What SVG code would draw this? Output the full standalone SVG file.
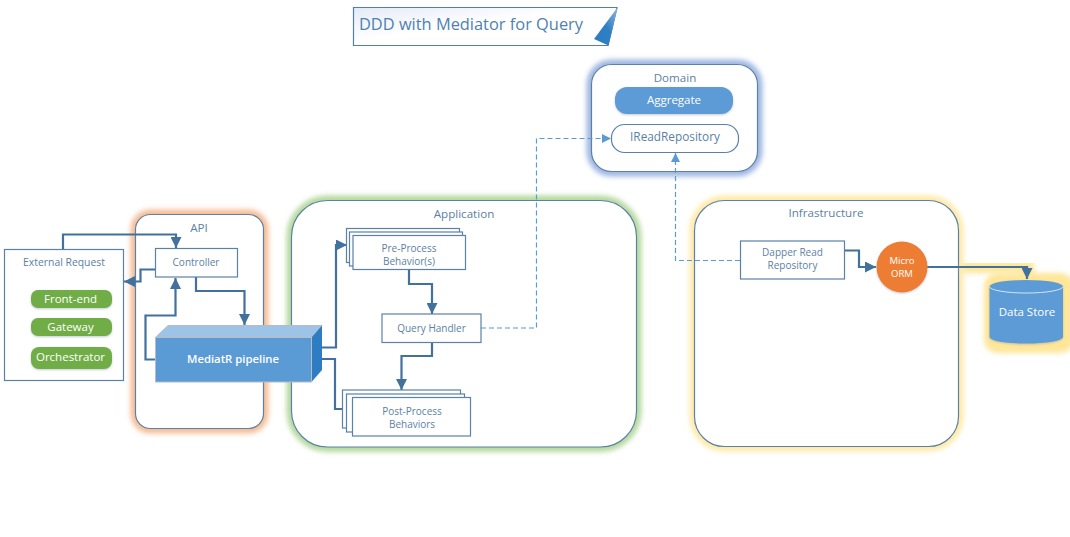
<svg xmlns="http://www.w3.org/2000/svg" width="1070" height="537" viewBox="0 0 1070 537">
<style>
text{font-family:"Open Sans","Noto Sans","Liberation Sans",sans-serif;text-anchor:middle}
.l{font-size:10px;fill:#5c7fa3}
.h{font-size:11.600px;fill:#5c7fa3}
.w{font-size:11.500px;fill:#fff}
.box{fill:#fff;stroke:#5a82a8;stroke-width:1.200}
.c{fill:none;stroke:#41719c;stroke-width:2.200}
.d{fill:none;stroke:#5b9bd5;stroke-width:1.200;stroke-dasharray:5 3}
.pill{fill:#70ad47;filter:url(#sh)}
.g{fill:none;stroke-width:10;filter:url(#glow);opacity:.85}
</style>
<defs>
<filter id="glow" x="-20%" y="-20%" width="140%" height="140%"><feGaussianBlur stdDeviation="2.500"/></filter>
<filter id="sh" x="-10%" y="-20%" width="120%" height="150%"><feDropShadow dx="0" dy="1" stdDeviation="1" flood-color="#8a9aa8" flood-opacity=".5"/></filter>
<linearGradient id="tg" x1="0" y1="0" x2="1" y2="1"><stop offset="0" stop-color="#e4eaf6"/><stop offset=".45" stop-color="#fff"/></linearGradient>
<linearGradient id="fold" x1="1" y1="0" x2="0" y2="1"><stop offset="0" stop-color="#8fb6dc"/><stop offset=".5" stop-color="#2e7fc4"/><stop offset="1" stop-color="#2e7cc0"/></linearGradient>
<marker id="a" markerUnits="userSpaceOnUse" viewBox="0 0 10 10" refX="10" refY="5" markerWidth="11" markerHeight="11" orient="auto"><path d="M0,0L10,5L0,10Z" fill="#41719c"/></marker>
<marker id="b" markerUnits="userSpaceOnUse" viewBox="0 0 8 8" refX="8" refY="4" markerWidth="9" markerHeight="9" orient="auto"><path d="M0,0L8,4L0,8Z" fill="#5b9bd5"/></marker>
</defs>
<g id="title">
<path d="M353.500,7.500H617L608,45.500H353.500Z" fill="url(#tg)" stroke="#4f81b0" stroke-width="1.200"/>
<path d="M617.500,7.500L594,39L608.500,45.500Z" fill="url(#fold)"/>
<text x="471" y="30" style="font-size:16.400px;fill:#4f81b0">DDD with Mediator for Query</text>
</g>
<g id="api">
<rect x="135.500" y="214.500" width="128" height="214" rx="15" class="g" stroke="#f4b183"/>
<rect x="135.500" y="214.500" width="128" height="214" rx="15" class="box"/>
<text x="199" y="232" class="h">API</text>
</g>
<g id="application">
<rect x="291.500" y="200.500" width="345" height="246.500" rx="36" class="g" stroke="#a9d18e"/>
<rect x="291.500" y="200.500" width="345" height="246.500" rx="36" class="box"/>
<text x="464" y="218" class="h">Application</text>
</g>
<g id="domain">
<rect x="591.500" y="64.500" width="166" height="107" rx="20" class="g" stroke="#8faadc"/>
<rect x="591.500" y="64.500" width="166" height="107" rx="20" class="box"/>
<text x="675" y="82" class="h">Domain</text>
</g>
<g id="infrastructure">
<rect x="694.500" y="200.500" width="264" height="246" rx="30" class="g" stroke="#ffe699"/>
<rect x="694.500" y="200.500" width="264" height="246" rx="30" class="box"/>
<text x="826" y="217" class="h">Infrastructure</text>
</g>
<g id="data-store">
<path d="M962,267H1028V285" fill="none" stroke="#ffe699" stroke-width="12" filter="url(#glow)"/>
<rect x="984" y="273" width="90" height="80" rx="14" fill="#ffe699" filter="url(#glow)"/>
<path d="M989.500,286.500A36.500,6.500 0 0 1 1063,286.500V337A36.500,6.500 0 0 1 989.500,337Z" fill="#5b9bd5" filter="url(#sh)"/>
<path d="M989.500,286.500A36.500,6.500 0 0 0 1063,286.500" fill="none" stroke="#d6e4f2" stroke-width="1"/>
<text x="1027" y="316" style="font-size:11.500px;fill:#fff">Data Store</text>
</g>
<g id="external-request">
<rect x="4.500" y="249.500" width="119" height="131" class="box"/>
<text x="64" y="266" style="font-size:10.400px;fill:#5c7fa3">External Request</text>
</g>
<g id="front-end"><rect x="31" y="290" width="81" height="18" rx="7" class="pill"/><text x="70.500" y="302.500" class="w">Front-end</text></g>
<g id="gateway"><rect x="31" y="318" width="81" height="18" rx="7" class="pill"/><text x="70.500" y="331" class="w">Gateway</text></g>
<g id="orchestrator"><rect x="31" y="347" width="81" height="22" rx="8" class="pill"/><text x="70.500" y="361" class="w">Orchestrator</text></g>
<g id="connectors">
<path class="c" d="M63,249V234.500H176V248" marker-end="url(#a)"/>
<path class="c" d="M155,269.500H140.500V281.500H124" marker-end="url(#a)"/>
<path class="c" d="M196,277V291H244.500V325" marker-end="url(#a)"/>
<path class="c" d="M155,359.500H145.500V315.500H175.500V278" marker-end="url(#a)"/>
<path class="c" d="M322,347.500H336V245H347" marker-end="url(#a)"/>
<path class="c" d="M322,359H335V409H352"/>
<path class="c" d="M409,269V284H432V314" marker-end="url(#a)"/>
<path class="c" d="M432,342V356H401.500V390" marker-end="url(#a)"/>
<path class="d" d="M481,328H536.500V138.500H611" marker-end="url(#b)"/>
<path class="d" d="M740,260.500H675.500V153" marker-end="url(#b)"/>
<path class="c" d="M845,250.500H859V267H876" marker-end="url(#a)"/>
<path class="c" d="M927,267H1027V279" marker-end="url(#a)"/>
</g>
<g id="controller"><rect x="155.500" y="248.500" width="82" height="28.500" class="box"/><text x="196" y="266" class="l">Controller</text></g>
<g id="mediatr-pipeline">
<path d="M155.500,337.500L168,325.500H322L311.500,337.500Z" fill="#9dc3e6" stroke="#b4bcc4"/>
<path d="M311.500,337.500L322,325.500V370L311.500,382Z" fill="#2e7dc2"/>
<rect x="155.500" y="337.500" width="156" height="44.500" fill="#5b9bd5" stroke="#b4bcc4"/>
<text x="233" y="363" style="font-size:11.300px;font-weight:600;fill:#fff">MediatR pipeline</text>
</g>
<g id="pre-process">
<rect x="346.500" y="228.500" width="113" height="34" class="box"/>
<rect x="349.500" y="232" width="113" height="34" class="box"/>
<rect x="353" y="235.500" width="112.500" height="34" class="box"/>
<text x="409" y="252" class="l">Pre-Process</text><text x="409" y="265" class="l">Behavior(s)</text>
</g>
<g id="query-handler"><rect x="382" y="314" width="99" height="28.500" class="box"/><text x="431.500" y="331.500" class="l">Query Handler</text></g>
<g id="post-process">
<rect x="342.500" y="390" width="118" height="38" class="box"/>
<rect x="346.500" y="394" width="118" height="38" class="box"/>
<rect x="352.500" y="397.500" width="118" height="38.500" class="box"/>
<text x="412" y="415" class="l">Post-Process</text><text x="412" y="428" class="l">Behaviors</text>
</g>
<g id="aggregate"><rect x="615" y="87" width="118" height="27" rx="12" fill="#5b9bd5" filter="url(#sh)"/><text x="674" y="104" class="w">Aggregate</text></g>
<g id="iread-repository"><rect x="611.500" y="124.500" width="127" height="28" rx="13" class="box"/><text x="675" y="141" style="font-size:11.800px;fill:#5c7fa3">IReadRepository</text></g>
<g id="dapper"><rect x="740.500" y="241" width="104" height="38" class="box"/><text x="792.500" y="256" class="l">Dapper Read</text><text x="792.500" y="269" class="l">Repository</text></g>
<g id="micro-orm"><circle cx="902" cy="267" r="25.500" fill="#ed7d31" filter="url(#sh)"/><text x="902" y="264" style="font-size:9.500px;fill:#fff">Micro</text><text x="902" y="277" style="font-size:9.500px;fill:#fff">ORM</text></g>
</svg>
